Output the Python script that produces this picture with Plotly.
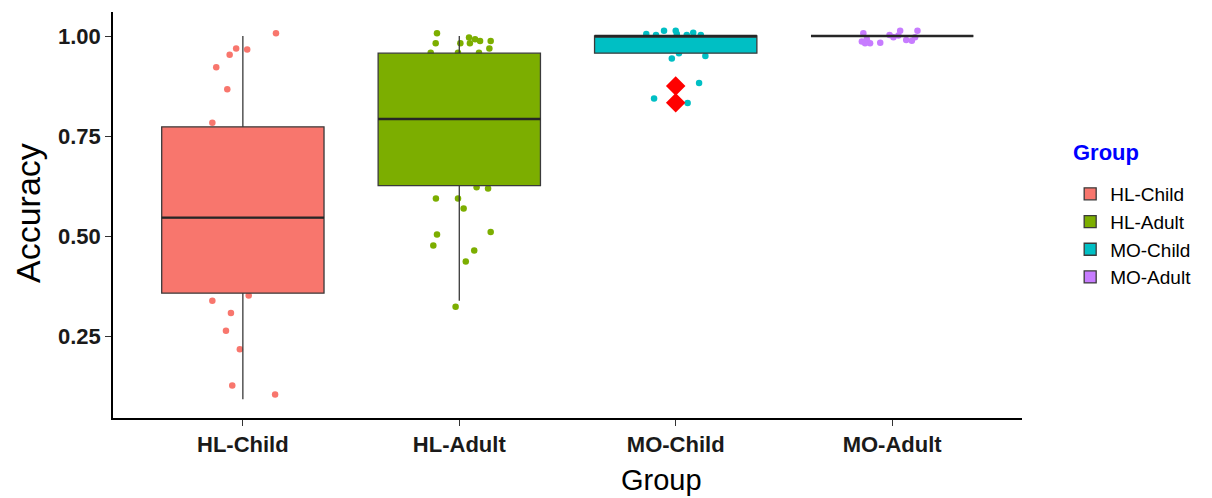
import plotly.graph_objects as go

# ---------------- data ----------------
groups = ["HL-Child", "HL-Adult", "MO-Child", "MO-Adult"]
colors = ["#F8766D", "#7CAE00", "#00BFC4", "#C77CFF"]

# box statistics
q1 = [0.357, 0.626, 0.957, 1.0]
median = [0.546, 0.7925, 1.0, 1.0]
q3 = [0.773, 0.957, 1.0, 1.0]
lower_whisker = [0.092, 0.338, 0.957, 1.0]
upper_whisker = [1.0, 1.0, 1.0, 1.0]

# outliers of MO-Child
outlier_values = [0.875, 0.833]

# jittered observations (visible ones): accuracy values and horizontal jitter
hl_child_acc = [1.007, 0.969, 0.966, 0.953, 0.922, 0.867, 0.783, 0.351, 0.338, 0.3075, 0.263, 0.217, 0.126, 0.104]
hl_child_jit = [0.153, -0.031, 0.020, -0.061, -0.123, -0.072, -0.141, 0.027, -0.141, -0.055, -0.078, -0.014, -0.049, 0.149]

hl_adult_acc = [1.007, 0.982, 0.982, 0.996, 0.982, 0.992, 0.9875, 0.9875, 0.969, 0.958, 0.958, 0.958,
                0.622, 0.619, 0.594, 0.594, 0.569, 0.504, 0.510, 0.476, 0.464, 0.436, 0.323]
hl_adult_jit = [-0.103, -0.109, 0.005, 0.045, 0.049, 0.073, 0.096, 0.145, 0.139, -0.132, -0.006, 0.091,
                0.080, 0.133, -0.108, -0.006, 0.020, -0.103, 0.145, -0.120, 0.069, 0.030, -0.017]

mo_child_acc = [1.005, 1.0025, 1.013, 1.013, 1.005, 1.0025, 1.008, 1.0025, 0.957, 0.944, 0.950, 0.8825, 0.844, 0.8325]
mo_child_jit = [-0.136, -0.091, -0.054, 0.0, 0.005, 0.051, 0.081, 0.116, 0.015, -0.018, 0.137, 0.108, -0.100, 0.055]

mo_adult_acc = [1.007, 0.986, 0.992, 0.982, 0.983, 1.0025, 0.997, 1.013, 1.001, 0.990, 0.988, 1.013, 0.997, 0.982]
mo_adult_jit = [-0.133, -0.140, -0.117, -0.102, -0.055, -0.012, 0.006, 0.037, 0.029, 0.065, 0.091, 0.117, 0.106, -0.125]

point_acc = [hl_child_acc, hl_adult_acc, mo_child_acc, mo_adult_acc]
point_jit = [hl_child_jit, hl_adult_jit, mo_child_jit, mo_adult_jit]

y_ticks = [0.25, 0.50, 0.75, 1.00]
y_tick_labels = ["0.25", "0.50", "0.75", "1.00"]

x_title = "Group"
y_title = "Accuracy"
legend_title = "Group"

# ---------------- figure ----------------
FONT = "Liberation Sans, Arial, sans-serif"
BOX_W = 0.75
X_RANGE = [-0.6, 3.6]
Y_RANGE = [0.045, 1.06]

fig = go.Figure()

# jitter points on the base axes (drawn beneath the boxes)
for i, g in enumerate(groups):
    fig.add_trace(go.Scatter(
        x=[i + j for j in point_jit[i]], y=point_acc[i],
        mode="markers", showlegend=False, hoverinfo="skip",
        marker=dict(color=colors[i], size=6.5, line=dict(width=0)),
        xaxis="x", yaxis="y",
    ))

# boxes on the overlay axes (drawn on top of points)
for i, g in enumerate(groups):
    fig.add_trace(go.Box(
        name=g, x=[i], q1=[q1[i]], median=[median[i]], q3=[q3[i]],
        lowerfence=[lower_whisker[i]], upperfence=[upper_whisker[i]],
        width=BOX_W, whiskerwidth=0, boxpoints=False,
        fillcolor=colors[i], line=dict(color="#3a3a3a", width=1.3),
        xaxis="x2", yaxis="y2", showlegend=True,
    ))

# thicker median lines
for i, g in enumerate(groups):
    fig.add_trace(go.Scatter(
        x=[i - BOX_W / 2, i + BOX_W / 2], y=[median[i], median[i]],
        mode="lines", line=dict(color="#262626", width=2.4),
        showlegend=False, hoverinfo="skip", xaxis="x2", yaxis="y2",
    ))

# outliers (MO-Child)
fig.add_trace(go.Scatter(
    x=[groups.index("MO-Child")] * len(outlier_values), y=outlier_values,
    mode="markers", marker=dict(symbol="diamond", color="red", size=15, line=dict(width=0)),
    showlegend=False, hoverinfo="skip", xaxis="x2", yaxis="y2",
))

axis_common = dict(showgrid=False, zeroline=False)

fig.update_layout(
    width=1212, height=498,
    margin=dict(l=113, r=190, t=12, b=80),
    paper_bgcolor="white", plot_bgcolor="white",
    font=dict(family=FONT, color="black"),
    xaxis=dict(
        range=X_RANGE, tickmode="array", tickvals=list(range(len(groups))), ticktext=groups,
        showline=True, linecolor="black", linewidth=1.5,
        ticks="outside", ticklen=6, tickwidth=1.2, tickcolor="#333333",
        tickfont=dict(family=FONT, size=22, weight="bold", color="#1a1a1a"),
        **axis_common,
    ),
    yaxis=dict(
        range=Y_RANGE, tickmode="array", tickvals=y_ticks, ticktext=y_tick_labels,
        showline=True, linecolor="black", linewidth=1.5,
        ticks="outside", ticklen=6, tickwidth=1.2, tickcolor="#333333",
        tickfont=dict(family=FONT, size=22, weight="bold", color="#1a1a1a"),
        **axis_common,
    ),
    xaxis2=dict(range=X_RANGE, overlaying="x", anchor="y2", visible=False, **axis_common),
    yaxis2=dict(range=Y_RANGE, overlaying="y", anchor="x2", visible=False, **axis_common),
    legend=dict(
        x=1.053, xanchor="left", y=0.5985, yanchor="top",
        font=dict(family=FONT, size=19, color="black"),
        bgcolor="rgba(0,0,0,0)", itemwidth=30,
    ),
    showlegend=True,
    annotations=[
        dict(text=x_title, xref="paper", yref="paper", x=0.603, y=-0.152,
             xanchor="center", yanchor="middle", showarrow=False,
             font=dict(family=FONT, size=29, color="black")),
        dict(text=y_title, xref="paper", yref="paper", x=-0.0935, y=0.505, textangle=-90,
             xanchor="center", yanchor="middle", showarrow=False,
             font=dict(family=FONT, size=34, color="black")),
        dict(text="<b>" + legend_title + "</b>", xref="paper", yref="paper", x=1.054, y=0.655,
             xanchor="left", yanchor="middle", showarrow=False,
             font=dict(family=FONT, size=22, color="blue")),
    ],
)

fig.write_html("out.html")
